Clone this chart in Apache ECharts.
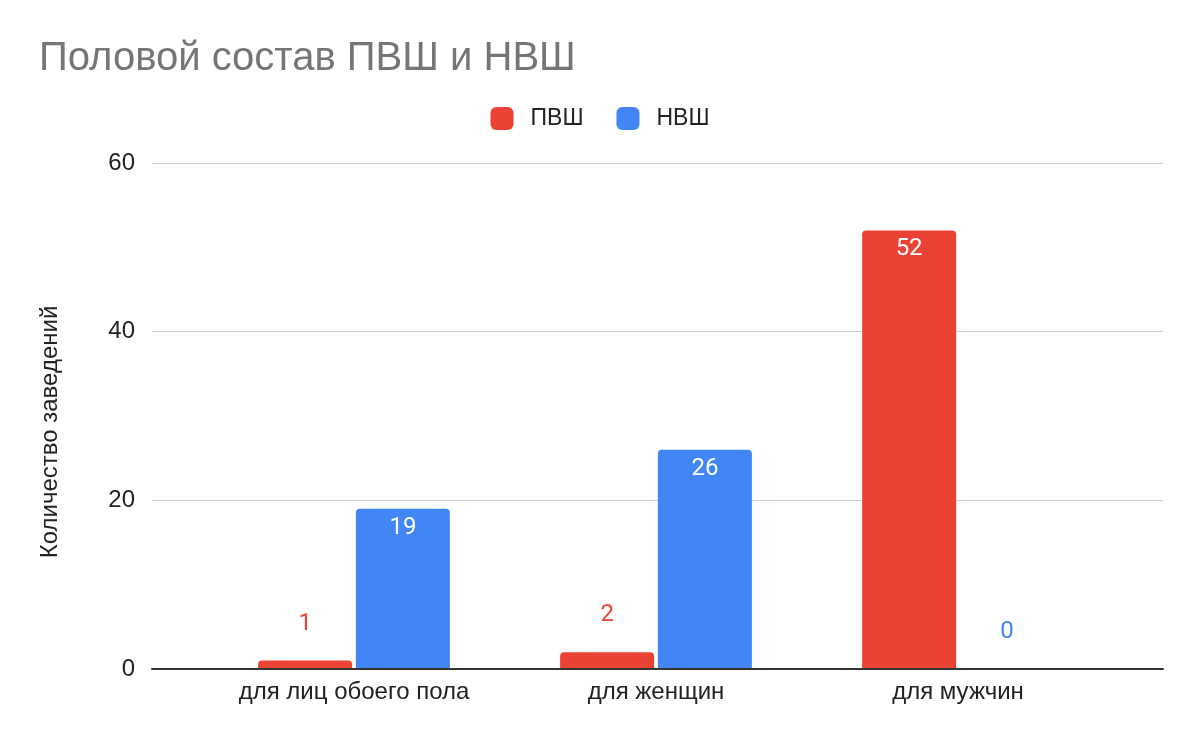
<!DOCTYPE html>
<html>
<head>
<meta charset="utf-8">
<script src="https://cdn.jsdelivr.net/npm/echarts@6/dist/echarts.min.js"></script>
<style>
	html, body { margin: 0; padding: 0; background: #fff; }
	#chart { width: 1200px; height: 742px; }
</style>
</head>
<body>
<div id="chart"></div>
<script>
	var categories = ['для лиц обоего пола', 'для женщин', 'для мужчин'];
	var seriesNames = ['ПВШ', 'НВШ'];
	var pvshValues = [1, 2, 52];
	var nvshValues = [19, 26, 0];
	var yTicks = [0, 20, 40, 60];

	var colors = ['#ea4335', '#4285f4'];
	var font = 'Arial';
	var labelFont = 'Roboto';

	// small bars get the label above, big ones inside at the top
	function makeData(values, color) {
		return values.map(function (v) {
			if (v >= 5) {
				return { value: v, label: { position: 'insideTop', distance: 7, color: '#fff' } };
			}
			return { value: v, label: { position: 'top', distance: 25, color: color } };
		});
	}

	var myChart = echarts.init(document.getElementById('chart'));
	var yMin = yTicks[0], yMax = yTicks[yTicks.length - 1], yStep = yTicks[1] - yTicks[0];

	var option = {
		animation: false,
		title: {
			text: 'Половой состав ПВШ и НВШ',
			left: 34,
			top: 34,
			textStyle: { color: '#757575', fontSize: 40, fontWeight: 'normal', fontFamily: font }
		},
		legend: {
			data: seriesNames,
			top: 102,
			left: 'center',
			icon: 'roundRect',
			itemWidth: 23,
			itemHeight: 23,
			itemGap: 33,
			textStyle: { color: '#222', fontSize: 23, fontFamily: font, padding: [0, 0, 0, 12] }
		},
		grid: [
			{ left: 152, right: 37, top: 163, bottom: 73 },
			{ left: 203, right: 91, top: 163, bottom: 73 }
		],
		xAxis: [{
			gridIndex: 0,
			type: 'category',
			data: categories,
			axisLine: { lineStyle: { color: '#333', width: 2 } },
			axisTick: { show: false },
			axisLabel: { show: false },
			z: 5
		}, {
			gridIndex: 1,
			type: 'category',
			data: categories,
			axisLine: { show: false },
			axisTick: { show: false },
			axisLabel: { color: '#222', fontSize: 24, fontFamily: font, margin: 11 }
		}],
		yAxis: [{
			gridIndex: 0,
			type: 'value',
			min: yMin,
			max: yMax,
			interval: yStep,
			name: 'Количество заведений',
			nameLocation: 'middle',
			nameGap: 90,
			nameTextStyle: { color: '#222', fontSize: 24, fontFamily: font, padding: [0, 32, 0, 0] },
			axisLine: { show: false },
			axisTick: { show: false },
			axisLabel: { color: '#222', fontSize: 24, fontFamily: font, margin: 17 },
			splitLine: { lineStyle: { color: '#cccccc', width: 1 } }
		}, {
			gridIndex: 1,
			type: 'value',
			min: yMin,
			max: yMax,
			interval: yStep,
			show: false,
			splitLine: { show: false }
		}],
		series: [{
			name: seriesNames[0],
			type: 'bar',
			xAxisIndex: 1,
			yAxisIndex: 1,
			barWidth: 94,
			barGap: '4%',
			itemStyle: { color: colors[0], borderRadius: [4, 4, 0, 0] },
			label: { show: true, fontSize: 24, fontFamily: labelFont },
			data: makeData(pvshValues, colors[0])
		}, {
			name: seriesNames[1],
			type: 'bar',
			xAxisIndex: 1,
			yAxisIndex: 1,
			barWidth: 94,
			barGap: '4%',
			itemStyle: { color: colors[1], borderRadius: [4, 4, 0, 0] },
			label: { show: true, fontSize: 24, fontFamily: labelFont },
			data: makeData(nvshValues, colors[1])
		}]
	};
	myChart.setOption(option);
</script>
</body>
</html>
